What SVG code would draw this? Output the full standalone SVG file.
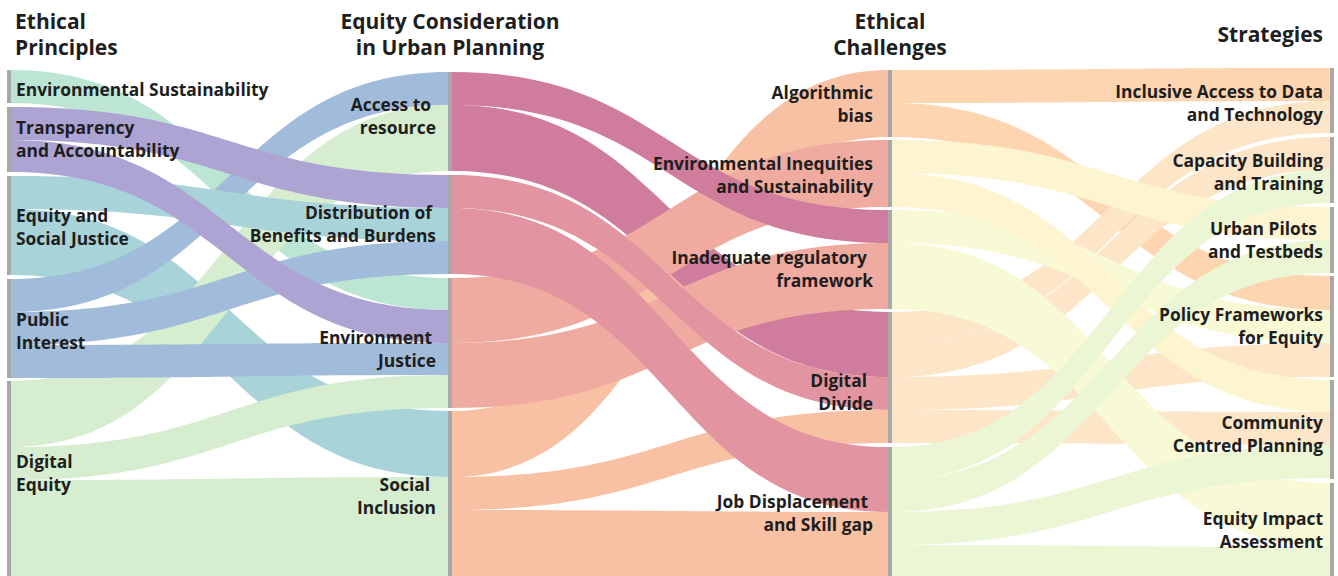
<svg xmlns="http://www.w3.org/2000/svg" width="1338" height="576" viewBox="0 0 1338 576">
  <style>
    text { font-family: "Open Sans", "Liberation Sans", sans-serif; font-weight: 700; fill: #1e1e1e; }
    .hd { font-size: 21px; }
    .lb { font-size: 17.4px; }
    .r { text-anchor: end; }
    .c { text-anchor: middle; }
    .bar { fill: #a8a8a8; }
    .es { fill: #bde5d3; } .ta { fill: #aea4d3; } .esj { fill: #a7d3d9; } .pi { fill: #a1bcda; } .de { fill: #d6edd0; }
    .ac { fill: #cf7c9d; } .di { fill: #e295a1; } .ej { fill: #f0aba0; } .si { fill: #f9c1a3; }
    .ab { fill: #fdd5b0; } .ei { fill: #fdf4d0; } .ir { fill: #f8f9d5; } .dd { fill: #fde5c8; } .jd { fill: #ebf6d4; }
  </style>

  <rect width="1338" height="576" fill="#ffffff"/>

  <!-- column headings -->
  <g id="headings">
    <text class="hd" x="15" y="29">Ethical</text>
    <text class="hd" x="15" y="55">Principles</text>
    <text class="hd c" x="450" y="29">Equity Consideration</text>
    <text class="hd c" x="450" y="55">in Urban Planning</text>
    <text class="hd c" x="890" y="29">Ethical</text>
    <text class="hd c" x="890" y="55">Challenges</text>
    <text class="hd r" x="1323" y="42">Strategies</text>
  </g>

  <g id="links">
    <!-- principles to equity considerations -->
    <path class="es" d="M11,70 C229.5,70 229.5,278 448,278 L448,310 C229.5,310 229.5,103 11,103 Z"/>
    <path class="esj" d="M11,209 C229.5,209 229.5,411 448,411 L448,477 C229.5,477 229.5,275 11,275 Z"/>
    <path class="de" d="M11,381 C229.5,381 229.5,105 448,105 L448,171 C229.5,171 229.5,447 11,447 Z"/>
    <path class="pi" d="M11,279 C229.5,279 229.5,72 448,72 L448,105 C229.5,105 229.5,312 11,312 Z"/>
    <path class="de" d="M11,447 C229.5,447 229.5,375 448,375 L448,408 C229.5,408 229.5,480 11,480 Z"/>
    <path class="pi" d="M11,312 C229.5,312 229.5,241 448,241 L448,274 C229.5,274 229.5,345 11,345 Z"/>
    <path class="esj" d="M11,176 C229.5,176 229.5,208 448,208 L448,241 C229.5,241 229.5,209 11,209 Z"/>
    <path class="ta" d="M11,140 C229.5,140 229.5,310 448,310 L448,343 C229.5,343 229.5,172 11,172 Z"/>
    <path class="ta" d="M11,107 C229.5,107 229.5,175 448,175 L448,208 C229.5,208 229.5,140 11,140 Z"/>
    <path class="pi" d="M11,345 C229.5,345 229.5,343 448,343 L448,375 C229.5,375 229.5,378 11,378 Z"/>
    <path class="de" d="M11,480 C229.5,480 229.5,477 448,477 L448,580 C229.5,580 229.5,580 11,580 Z"/>

    <!-- equity considerations to ethical challenges -->
    <path class="si" d="M452,411 C670,411 670,70 888,70 L888,137 C670,137 670,477 452,477 Z"/>
    <path class="ac" d="M452,105 C670,105 670,312 888,312 L888,377 C670,377 670,171 452,171 Z"/>
    <path class="ej" d="M452,278 C670,278 670,140 888,140 L888,207 C670,207 670,343 452,343 Z"/>
    <path class="ej" d="M452,343 C670,343 670,243 888,243 L888,309 C670,309 670,408 452,408 Z"/>
    <path class="si" d="M452,477 C670,477 670,410 888,410 L888,443 C670,443 670,510 452,510 Z"/>
    <path class="si" d="M452,510 C670,510 670,512 888,512 L888,580 C670,580 670,580 452,580 Z"/>
    <path class="ac" d="M452,72 C670,72 670,210 888,210 L888,243 C670,243 670,105 452,105 Z"/>
    <path class="di" d="M452,175 C670,175 670,377 888,377 L888,410 C670,410 670,208 452,208 Z"/>
    <path class="di" d="M452,208 C670,208 670,447 888,447 L888,512 C670,512 670,274 452,274 Z"/>

    <!-- ethical challenges to strategies -->
    <path class="ab" d="M892,103 C1111,103 1111,276 1330,276 L1330,310 C1111,310 1111,137 892,137 Z"/>
    <path class="ab" d="M892,70 C1111,70 1111,68 1330,68 L1330,101 C1111,101 1111,103 892,103 Z"/>
    <path class="dd" d="M892,377 C1111,377 1111,343 1330,343 L1330,377 C1111,377 1111,410 892,410 Z"/>
    <path class="dd" d="M892,410 C1111,410 1111,412 1330,412 L1330,445 C1111,445 1111,443 892,443 Z"/>
    <path class="dd" d="M892,312 C1111,312 1111,101 1330,101 L1330,133 C1111,133 1111,345 892,345 Z"/>
    <path class="dd" d="M892,345 C1111,345 1111,137 1330,137 L1330,170 C1111,170 1111,377 892,377 Z"/>
    <path class="ir" d="M892,210 C1111,210 1111,310 1330,310 L1330,343 C1111,343 1111,243 892,243 Z"/>
    <path class="ir" d="M892,243 C1111,243 1111,483 1330,483 L1330,515 C1111,515 1111,276 892,276 Z"/>
    <path class="ir" d="M892,276 C1111,276 1111,515 1330,515 L1330,547 C1111,547 1111,309 892,309 Z"/>
    <path class="ei" d="M892,140 C1111,140 1111,207 1330,207 L1330,240 C1111,240 1111,173 892,173 Z"/>
    <path class="ei" d="M892,173 C1111,173 1111,380 1330,380 L1330,412 C1111,412 1111,207 892,207 Z"/>
    <path class="jd" d="M892,545 C1111,545 1111,547 1330,547 L1330,580 C1111,580 1111,580 892,580 Z"/>
    <path class="jd" d="M892,512 C1111,512 1111,445 1330,445 L1330,478 C1111,478 1111,545 892,545 Z"/>
    <path class="jd" d="M892,480 C1111,480 1111,240 1330,240 L1330,273 C1111,273 1111,512 892,512 Z"/>
    <path class="jd" d="M892,447 C1111,447 1111,170 1330,170 L1330,203 C1111,203 1111,480 892,480 Z"/>
  </g>

  <!-- ethical principles -->
  <g id="node-environmental-sustainability">
    <rect class="bar" x="7" y="70" width="4" height="33"/>
    <text class="lb" x="16" y="96">Environmental Sustainability</text>
  </g>
  <g id="node-transparency">
    <rect class="bar" x="7" y="107" width="4" height="65"/>
    <text class="lb" x="16" y="134">Transparency</text>
    <text class="lb" x="16" y="157">and Accountability</text>
  </g>
  <g id="node-equity-social-justice">
    <rect class="bar" x="7" y="176" width="4" height="99"/>
    <text class="lb" x="16" y="222">Equity and</text>
    <text class="lb" x="16" y="245">Social Justice</text>
  </g>
  <g id="node-public-interest">
    <rect class="bar" x="7" y="279" width="4" height="99"/>
    <text class="lb" x="16" y="326">Public</text>
    <text class="lb" x="16" y="349">Interest</text>
  </g>
  <g id="node-digital-equity">
    <rect class="bar" x="7" y="381" width="4" height="199"/>
    <text class="lb" x="16" y="468">Digital</text>
    <text class="lb" x="16" y="491">Equity</text>
  </g>

  <!-- equity considerations -->
  <g id="node-access-to-resource">
    <rect class="bar" x="448" y="72" width="4" height="99"/>
    <text class="lb r" x="431" y="111">Access to</text>
    <text class="lb r" x="436" y="134">resource</text>
  </g>
  <g id="node-distribution">
    <rect class="bar" x="448" y="175" width="4" height="99"/>
    <text class="lb r" x="432" y="219">Distribution of</text>
    <text class="lb r" x="436" y="242">Benefits and Burdens</text>
  </g>
  <g id="node-environment-justice">
    <rect class="bar" x="448" y="278" width="4" height="130"/>
    <text class="lb r" x="432" y="344">Environment</text>
    <text class="lb r" x="436" y="367">Justice</text>
  </g>
  <g id="node-social-inclusion">
    <rect class="bar" x="448" y="411" width="4" height="169"/>
    <text class="lb r" x="430" y="491">Social</text>
    <text class="lb r" x="436" y="514">Inclusion</text>
  </g>

  <!-- ethical challenges -->
  <g id="node-algorithmic-bias">
    <rect class="bar" x="888" y="70" width="4" height="67"/>
    <text class="lb r" x="873" y="99">Algorithmic</text>
    <text class="lb r" x="873" y="122">bias</text>
  </g>
  <g id="node-environmental-inequities">
    <rect class="bar" x="888" y="140" width="4" height="67"/>
    <text class="lb r" x="873" y="170">Environmental Inequities</text>
    <text class="lb r" x="873" y="193">and Sustainability</text>
  </g>
  <g id="node-inadequate-regulatory-framework">
    <rect class="bar" x="888" y="210" width="4" height="99"/>
    <text class="lb r" x="867" y="264">Inadequate regulatory</text>
    <text class="lb r" x="873" y="287">framework</text>
  </g>
  <g id="node-digital-divide">
    <rect class="bar" x="888" y="312" width="4" height="131"/>
    <text class="lb r" x="867" y="387">Digital</text>
    <text class="lb r" x="873" y="410">Divide</text>
  </g>
  <g id="node-job-displacement">
    <rect class="bar" x="888" y="447" width="4" height="133"/>
    <text class="lb r" x="868" y="508">Job Displacement</text>
    <text class="lb r" x="873" y="531">and Skill gap</text>
  </g>

  <!-- strategies -->
  <g id="node-inclusive-access">
    <rect class="bar" x="1330" y="68" width="4" height="65"/>
    <text class="lb r" x="1323" y="98">Inclusive Access to Data</text>
    <text class="lb r" x="1323" y="121">and Technology</text>
  </g>
  <g id="node-capacity-building">
    <rect class="bar" x="1330" y="137" width="4" height="66"/>
    <text class="lb r" x="1323" y="167">Capacity Building</text>
    <text class="lb r" x="1323" y="190">and Training</text>
  </g>
  <g id="node-urban-pilots">
    <rect class="bar" x="1330" y="207" width="4" height="66"/>
    <text class="lb r" x="1317" y="235">Urban Pilots</text>
    <text class="lb r" x="1323" y="258">and Testbeds</text>
  </g>
  <g id="node-policy-frameworks">
    <rect class="bar" x="1330" y="276" width="4" height="101"/>
    <text class="lb r" x="1323" y="321">Policy Frameworks</text>
    <text class="lb r" x="1323" y="344">for Equity</text>
  </g>
  <g id="node-community-centred-planning">
    <rect class="bar" x="1330" y="380" width="4" height="99"/>
    <text class="lb r" x="1323" y="429">Community</text>
    <text class="lb r" x="1323" y="452">Centred Planning</text>
  </g>
  <g id="node-equity-impact-assessment">
    <rect class="bar" x="1330" y="483" width="4" height="97"/>
    <text class="lb r" x="1323" y="525">Equity Impact</text>
    <text class="lb r" x="1323" y="548">Assessment</text>
  </g>
</svg>
